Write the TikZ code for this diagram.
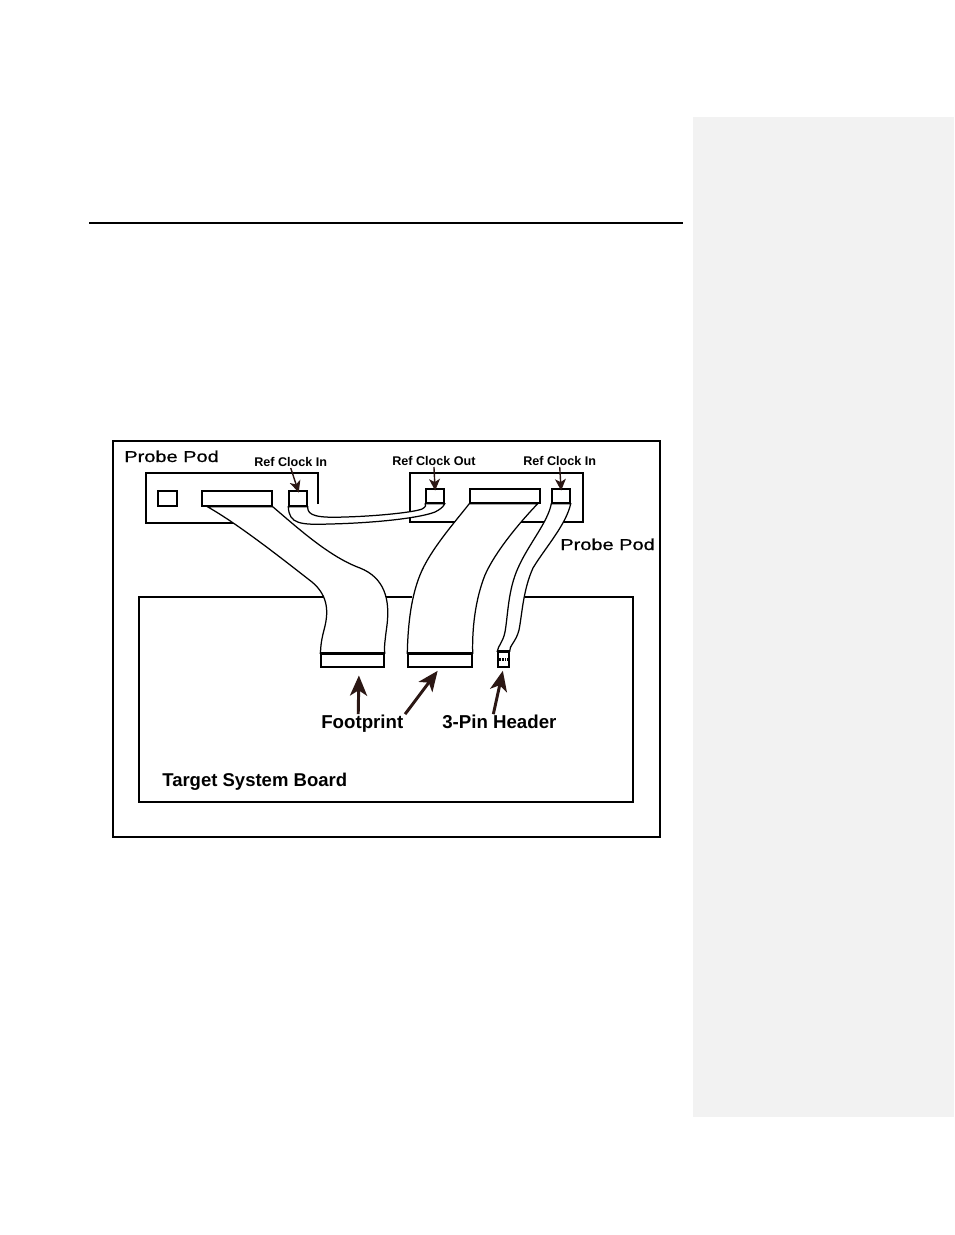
\documentclass[tikz,border=0pt]{standalone}
\usepackage{fontspec}
\setmainfont{Liberation Sans}
\newfontfamily\podfont[FakeBold=0.7]{Liberation Sans}
\usepackage{tikz}
\usetikzlibrary{arrows.meta,positioning,calc}
\newcommand{\pxu}{0.6428pt}
\definecolor{panelgray}{HTML}{F2F2F2}
\definecolor{arrowbrown}{HTML}{2B1714}
\tikzstyle{pinbox}=[draw,fill=white,line width=0.9pt,inner sep=0pt]
\tikzstyle{cable}=[draw,fill=white,line width=0.8pt]
\tikzstyle{lbl}=[inner sep=0pt,anchor=base west]
\tikzstyle{ptr}=[draw=arrowbrown,line width=0.9pt,-{Stealth[length=7.5pt,width=7pt,inset=2pt]},shorten >=-1.5pt]
\tikzstyle{bigptr}=[draw=arrowbrown,line width=1.9pt,-{Stealth[length=13pt,width=11pt,inset=3.5pt]}]
\tikzstyle{podname}=[lbl,font=\podfont\fontsize{10.2}{12}\selectfont]
\tikzstyle{clkname}=[lbl,font=\fontsize{8.1}{9}\selectfont\bfseries]
\tikzstyle{partname}=[lbl,font=\fontsize{12}{14}\selectfont\bfseries]

\begin{document}
\begin{tikzpicture}[x=\pxu,y=-\pxu]
\useasboundingbox (0,0) rectangle (954,1235);
\fill[panelgray] (693,117) rectangle (954,1117);
\draw[line width=0.9pt] (89,223) -- (683,223);

\draw[line width=0.7pt] (113,441) rectangle (660,837);
\draw[line width=1.3pt] (412,597) -- (139,597) -- (139,802) -- (633,802) -- (633,597) -- (525,597);

\draw[line width=1pt] (318,504) -- (318,473) -- (146,473) -- (146,523) -- (292,523);
\draw[line width=1pt] (410,473) rectangle (583,522);

\node[pinbox,minimum width=19*\pxu,minimum height=15*\pxu] (spare) at (167.5,498.5) {};
\node[pinbox,minimum width=70*\pxu,minimum height=15*\pxu] (pinA) at (237,498.5) {};
\node[pinbox,minimum width=18*\pxu,minimum height=15*\pxu] (clkL) at (298,498.5) {};
\node[pinbox,minimum width=18*\pxu,minimum height=14*\pxu] (clkO) at (435,496) {};
\node[pinbox,minimum width=70*\pxu,minimum height=14*\pxu] (pinB) at (505,496) {};
\node[pinbox,minimum width=18*\pxu,minimum height=14*\pxu] (clkR) at (561,496) {};
\node[pinbox,minimum width=63*\pxu,minimum height=13*\pxu] (fpA) at (352.5,660.5) {};
\node[pinbox,minimum width=64*\pxu,minimum height=13*\pxu] (fpB) at (440,660.5) {};
\node[pinbox,minimum width=11*\pxu,minimum height=15*\pxu] (hdr) at (503.5,659.5) {};

\draw[cable] ([xshift=3.9pt]pinA.south west) -- (pinA.south east)
  .. controls (300,530) and (330,557) .. (360,568)
  .. controls (385,578) and (390,600) .. (387,625)
  .. controls (385,640) and (384,648) .. (fpA.north east)
  -- (fpA.north west)
  .. controls (321,650) and (320,645) .. (324,630)
  .. controls (328,615) and (330,597) .. (312,582)
  .. controls (290,565) and (240,525) .. ([xshift=3.9pt]pinA.south west) -- cycle;
\draw[cable] (pinB.south west)
  .. controls (455,522) and (430,550) .. (420,575)
  .. controls (412,595) and (408,620) .. (fpB.north west)
  -- (fpB.north east)
  .. controls (472,630) and (475,600) .. (485,575)
  .. controls (495,552) and (520,522) .. ([xshift=-1.9pt]pinB.south east) -- cycle;
\draw[cable] (clkR.south west)
  .. controls (548,522) and (528,545) .. (518,568)
  .. controls (508,590) and (508,615) .. (505,632)
  .. controls (503,642) and (498,646) .. (hdr.north west)
  -- (hdr.north east)
  .. controls (509,646) and (516,642) .. (519,630)
  .. controls (522,615) and (523,590) .. (533,568)
  .. controls (545,548) and (566,525) .. (clkR.south east) -- cycle;
\draw[cable] (clkL.south east)
  .. controls (307,516) and (318,518) .. (345,517)
  .. controls (380,516) and (415,512) .. (422,509)
  .. controls (426,507) and (426,505) .. (clkO.south west)
  -- (clkO.south east)
  .. controls (444,505) and (443,508) .. (435,512)
  .. controls (420,518) and (375,523) .. (330,524)
  .. controls (300,525) and (289,524) .. (clkL.south west) -- cycle;

\draw[line width=1.5pt] (fpA.north west) -- (fpA.north east);
\draw[line width=1.5pt] (fpB.north west) -- (fpB.north east);
\draw[line width=1.5pt] (hdr.north west) -- (hdr.north east);
\draw[line width=1.6pt,dash pattern=on 1pt off 0.7pt] ([xshift=1.3pt]hdr.west) -- ([xshift=-1.3pt]hdr.east);

\node[podname] (podL) at (124,462) {\scalebox{1.26}[1]{Probe Pod}};
\node[podname] (podR) at (560,550) {\scalebox{1.26}[1]{Probe Pod}};
\node[clkname] (inL) at (254,466) {Ref Clock In};
\node[clkname] (outM) at (392,465) {Ref Clock Out};
\node[clkname] (inR) at (523,465) {Ref Clock In};
\node[partname] (fpname) at (321,728) {Footprint};
\node[partname] (hdrname) at (442,728) {3-Pin Header};
\node[partname,font=\fontsize{11.9}{14}\selectfont\bfseries] (board) at (162,786) {Target System Board};

\draw[ptr] ([yshift=-1pt]inL.south) -- (clkL.north);
\draw[ptr] ([yshift=-1pt]outM.south) -- (clkO.north);
\draw[ptr] ([yshift=-1pt]inR.south) -- (clkR.north);
\draw[bigptr,shorten >=5pt] ([xshift=-2.6pt]fpname.north) -- ([xshift=4.2pt]fpA.south);
\draw[bigptr,shorten >=2.5pt] ([xshift=1pt]fpname.north east) -- (fpB.south);
\draw[bigptr,shorten >=2pt] ([xshift=33pt]hdrname.north west) -- (hdr.south);
\end{tikzpicture}
\end{document}
